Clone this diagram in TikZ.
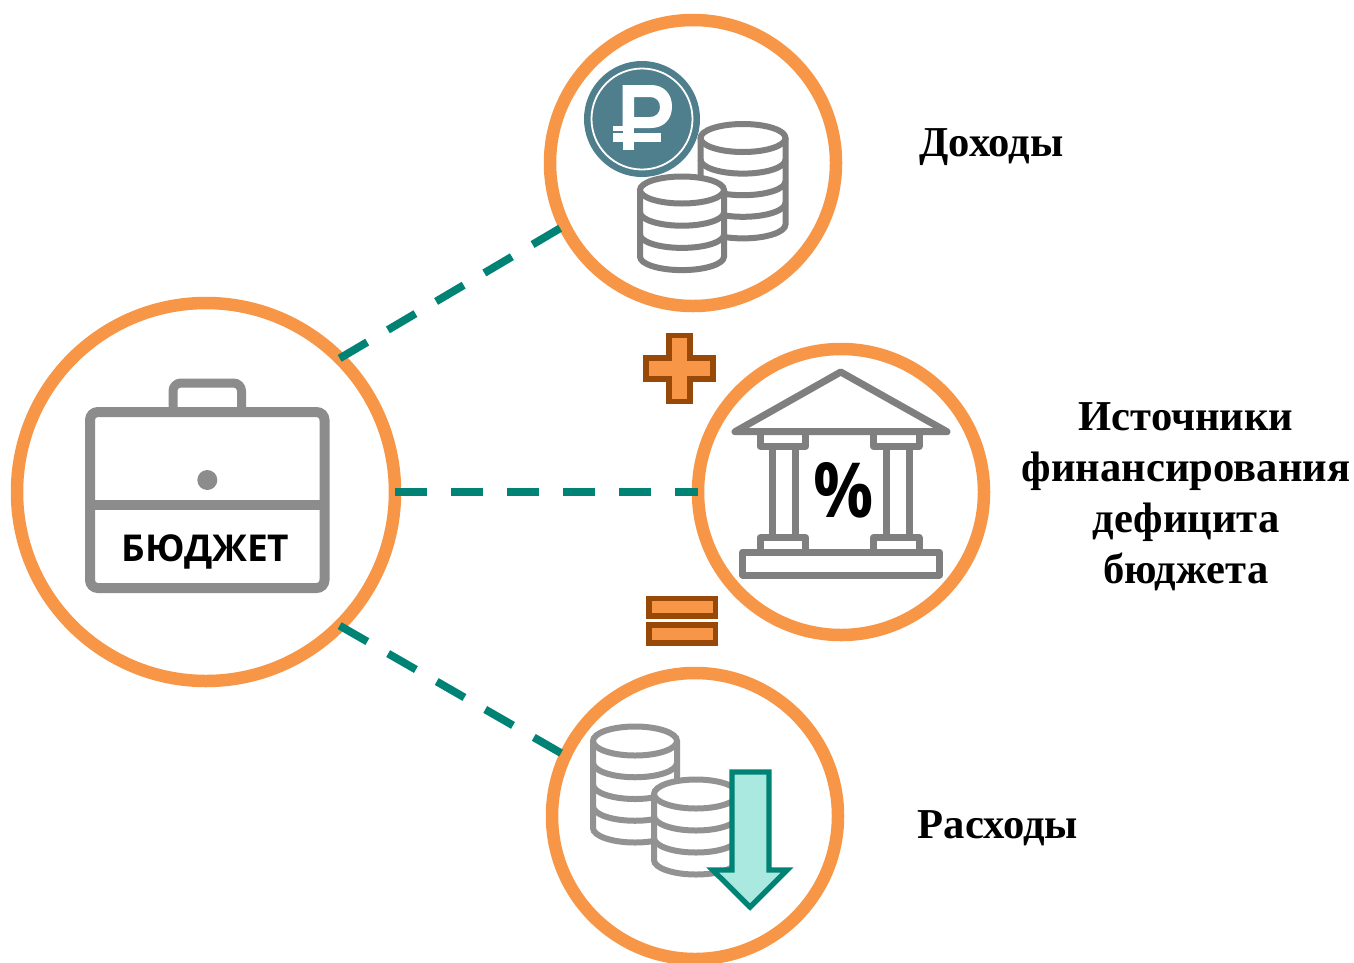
\documentclass[tikz,border=0pt]{standalone}
\usepackage{fontspec}
\setmainfont{Liberation Serif}
\newfontfamily\iconfont{Open Sans}
\definecolor{ring}{HTML}{F79646}
\definecolor{ringdark}{HTML}{984807}
\definecolor{tealline}{HTML}{008375}
\definecolor{tealfill}{HTML}{A9E9E0}
\definecolor{icongray}{HTML}{7F7F7F}
\definecolor{casegray}{HTML}{8C8C8C}
\definecolor{coinblue}{HTML}{4F7F8C}
\tikzset{
  bubble/.style={circle,draw=ring,line width=12.5pt,fill=white,inner sep=0pt,outer sep=0pt,minimum size=#1},
  link/.style={draw=tealline,line width=7.8pt,dash pattern=on 32pt off 24pt},
  icon/.style={draw=icongray,line width=7pt,line join=round},
  signshape/.style={draw=ringdark,fill=ring,line width=5.5pt,line join=miter},
  caption/.style={font=\fontsize{42.6}{51}\selectfont\bfseries,text=black,inner sep=0pt,align=center}
}
% x, y (top ellipse centre), rx, ry, step, bands, line width, colour
\newcommand\coinstack[8]{%
  \fill[white] (#1-#3,#2) -- (#1-#3,#2+#6*#5)
     arc[start angle=180,end angle=0,x radius=#3,y radius=#4]
     -- (#1+#3,#2) arc[start angle=0,end angle=180,x radius=#3,y radius=-#4] -- cycle;
  \draw[draw=#8,line width=#7] (#1-#3,#2) -- (#1-#3,#2+#6*#5)
     arc[start angle=180,end angle=0,x radius=#3,y radius=#4] -- (#1+#3,#2);
  \foreach \k in {1,...,\numexpr#6-1\relax}{
    \draw[draw=#8,line width=#7] (#1-#3,#2+\k*#5) arc[start angle=180,end angle=0,x radius=#3,y radius=#4];
  }
  \draw[draw=#8,line width=#7] (#1,#2) ellipse[x radius=#3,y radius=#4];
}
\begin{document}
\begin{tikzpicture}[x=1pt,y=-1pt]
\useasboundingbox (0,0) rectangle (1354,962);

\node[bubble=378pt] (budget) at (206,492) {};
\node[bubble=286pt] (income) at (693,163) {};
\node[bubble=286pt] (source) at (841,492) {};
\node[bubble=286pt] (expense) at (695,816) {};

\draw[link,shorten >=5pt] (budget.45) -- (income.206);
\draw[link] (budget.0) -- (source.180);
\draw[link,shorten >=5pt] (budget.-45) -- (expense.155);

% briefcase
\draw[draw=casegray,line width=9pt,rounded corners=8pt] (173,412) -- (173,383) -- (241.5,383) -- (241.5,412);
\draw[draw=casegray,line width=10pt,rounded corners=8pt] (90,412) rectangle (324.5,588);
\draw[draw=casegray,line width=10pt] (90,505) -- (324.5,505);
\fill[casegray] (207.3,480) circle[radius=10];
\node[font=\iconfont\fontsize{37}{37}\selectfont\bfseries,text=black,inner sep=0pt] (budgetlabel) at (205.5,552) {БЮДЖЕТ};

% income coins
\coinstack{743}{138}{42.5}{14}{21.6}{4}{6pt}{icongray}
\fill[coinblue] (642,119) circle[radius=58];
\draw[white,line width=1.8pt] (642,119) circle[radius=50.5];
\fill[white,even odd rule] (622.7,85) -- (651,85) .. controls (664,85) and (672,94) .. (672,106.5)
   .. controls (672,119) and (664,128) .. (651,128) -- (622.7,128) -- cycle
   (634,97) -- (650,97) .. controls (656,97) and (660,101) .. (660,107)
   .. controls (660,113) and (656,117) .. (650,117) -- (634,117) -- cycle;
\fill[white] (622.7,128) rectangle (634,150);
\fill[white] (613.3,126) rectangle (622.7,130.7);
\fill[white] (613.3,132.7) rectangle (661,141.7);
\coinstack{682}{190}{42}{13.5}{22.2}{3}{6pt}{icongray}

% bank
\draw[icon] (735,431.7) -- (840.7,372) -- (947,431.7) -- cycle;
\draw[icon] (760.3,432) -- (760.3,446.3) -- (805.7,446.3) -- (805.7,432);
\draw[icon] (873.7,432) -- (873.7,446.3) -- (919,446.3) -- (919,432);
\foreach \cx in {772.7,795.7,886,909.3}{\draw[icon] (\cx,446.3) -- (\cx,537.7);}
\draw[icon] (760.3,552) -- (760.3,537.7) -- (805.7,537.7) -- (805.7,552);
\draw[icon] (873.7,552) -- (873.7,537.7) -- (919,537.7) -- (919,552);
\draw[icon] (742.7,552.3) rectangle (939.3,575);
\node[font=\iconfont\fontsize{76}{76}\selectfont\bfseries,text=black,inner sep=0pt,xscale=0.88] (percent) at (844,490) {\%};

% plus
\draw[signshape] (668.8,335.5) -- (689.9,335.5) -- (689.9,357.8) -- (712.9,357.8) -- (712.9,378.9)
  -- (689.9,378.9) -- (689.9,401.5) -- (668.8,401.5) -- (668.8,378.9) -- (646.1,378.9)
  -- (646.1,357.8) -- (668.8,357.8) -- cycle;
% equals
\draw[signshape] (648.8,598.5) rectangle (715.5,616.2);
\draw[signshape] (648.8,625.1) rectangle (715.5,642.9);

% expense coins
\coinstack{635}{741}{42}{14.5}{21.75}{4}{6pt}{icongray!85!white}
\coinstack{696}{794}{42}{14.5}{22}{3}{6pt}{icongray!85!white}
\draw[draw=tealline,fill=tealfill,line width=5.3pt,line join=miter]
  (732,772) -- (769,772) -- (769,870) -- (787,870) -- (750,907) -- (712.7,870) -- (732,870) -- cycle;

\node[caption] (t1) at (991.5,147) {Доходы};
\node[caption] (t2) at (1186,497) {Источники\\финансирования\\дефицита\\бюджета};
\node[caption] (t3) at (998,828) {Расходы};
\end{tikzpicture}
\end{document}
